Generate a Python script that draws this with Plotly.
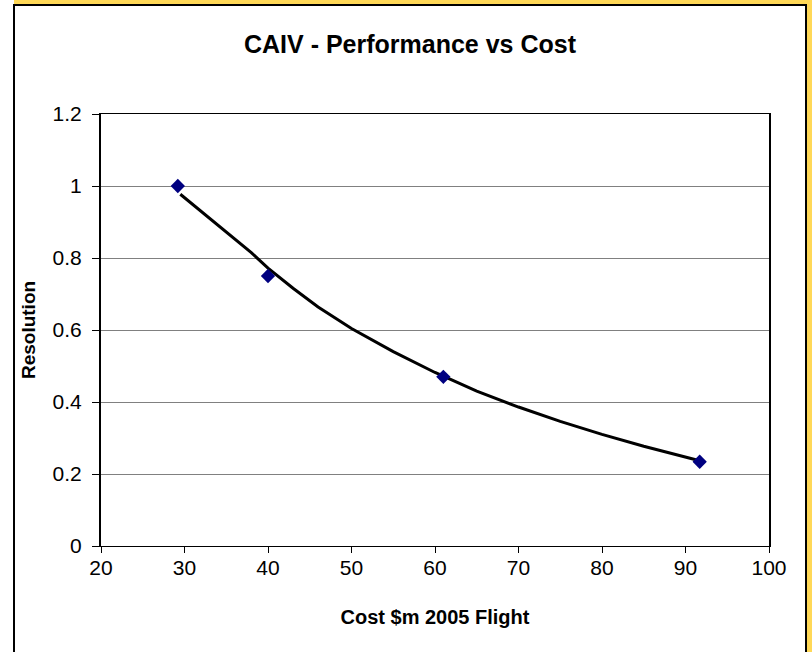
import plotly.graph_objects as go

# data points (cost in $m 2005 flight, resolution)
cost = [29.2, 40.0, 61.0, 91.7]
resolution = [1.0, 0.75, 0.47, 0.234]

# trend line
trend_cost = [29.5, 32, 35, 38, 40, 43, 46, 50, 55, 60, 65, 70, 75, 80, 85, 90, 91.7]
trend_res = [0.977, 0.93, 0.872, 0.815, 0.772, 0.716, 0.664, 0.604, 0.54, 0.482, 0.43, 0.386, 0.346, 0.31, 0.277, 0.247, 0.237]

W, H = 812, 652
L, R, T, B = 101, 769, 114, 546


def px(x):
    return (x - L) / (R - L)


def py(y):
    return (B - y) / (B - T)


FONT = "Liberation Sans, Arial, sans-serif"

fig = go.Figure()
fig.add_trace(go.Scatter(x=trend_cost, y=trend_res, mode="lines",
                         line=dict(color="black", width=3), showlegend=False))
fig.add_trace(go.Scatter(x=cost, y=resolution, mode="markers",
                         marker=dict(symbol="diamond", size=11, color="#000080"),
                         showlegend=False))

shapes = [
    # yellow edges of the frame
    dict(type="rect", xref="paper", yref="paper", x0=px(14), x1=px(812), y0=py(0), y1=py(4),
         fillcolor="#FFD857", line=dict(width=0), layer="below"),
    dict(type="rect", xref="paper", yref="paper", x0=px(807), x1=px(812), y0=py(0), y1=py(660),
         fillcolor="#FFD857", line=dict(width=0), layer="below"),
    # black chart frame
    dict(type="rect", xref="paper", yref="paper", x0=px(14), x1=px(806), y0=py(5), y1=py(670),
         fillcolor="rgba(0,0,0,0)", line=dict(color="black", width=2), layer="below"),
]

fig.update_layout(
    width=W, height=H,
    margin=dict(l=L, r=W - R, t=T, b=H - B),
    paper_bgcolor="white", plot_bgcolor="white",
    font=dict(family=FONT, color="black"),
    title=dict(text="<b>CAIV - Performance vs Cost</b>", x=410 / W, xref="container", xanchor="center",
               y=1 - 44 / H, yanchor="middle", font=dict(size=25, family=FONT)),
    shapes=shapes,
)

fig.update_xaxes(range=[20, 100], dtick=10, showgrid=False, showline=True, linecolor="black",
                 linewidth=1, mirror=True, ticks="outside", ticklen=6, tickcolor="black",
                 tickfont=dict(size=21), zeroline=False, ticklabelstandoff=-3,
                 title=dict(text="<b>Cost $m 2005 Flight</b>", font=dict(size=20), standoff=31))
fig.update_yaxes(range=[0, 1.2], dtick=0.2, showgrid=True, gridcolor="#808080", gridwidth=1,
                 showline=True, linecolor="black", linewidth=2, mirror=True, ticks="outside",
                 ticklen=7, tickcolor="black", tickfont=dict(size=21), zeroline=False,
                 tickformat="~g", ticklabelstandoff=6,
                 title=dict(text="<b>Resolution</b>", font=dict(size=19), standoff=12))

# page body has a default 8px margin; drop it so the figure sits at the window corner
fig.write_html("out.html", config={"displayModeBar": False},
               post_script="document.body.style.margin='0';")
